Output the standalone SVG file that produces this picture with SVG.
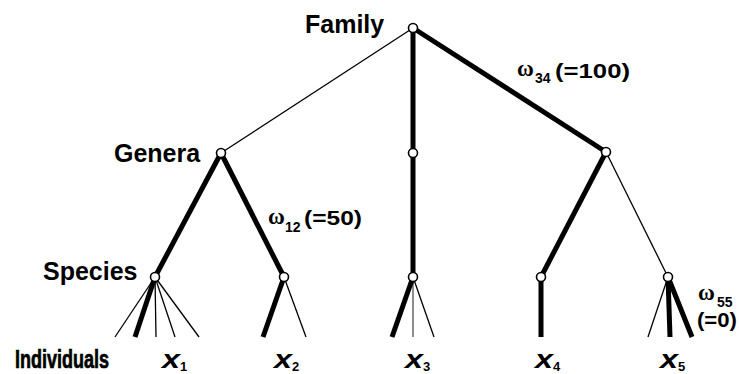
<svg xmlns="http://www.w3.org/2000/svg" width="739" height="374" viewBox="0 0 739 374">
<style>
.thick{stroke:#000;stroke-width:5;fill:none}
.thin{stroke:#000;stroke-width:1.3;fill:none}
.hair{stroke:#000;stroke-width:0.9;fill:none}
.node{fill:#fff;stroke:#000;stroke-width:1.6}
.lbl{font-family:"Liberation Sans",Arial,sans-serif;font-weight:bold;font-size:25px;fill:#000}
.x{font-family:"Liberation Sans",Arial,sans-serif;font-weight:bold;font-style:italic;font-size:26px;fill:#000}
.xs{font-family:"Liberation Sans",Arial,sans-serif;font-weight:bold;font-size:13px;fill:#000}
.om{font-family:"Liberation Serif","Times New Roman",serif;font-weight:bold;font-size:23px;fill:#000}
.os{font-family:"Liberation Sans",Arial,sans-serif;font-weight:bold;font-size:14px;fill:#000}
.ov{font-family:"Liberation Sans",Arial,sans-serif;font-weight:bold;font-size:20px;fill:#000}
</style>
<g id="connectors">
<line class="thin" x1="413" y1="28" x2="221" y2="153"/>
<line class="thick" x1="413" y1="28" x2="413" y2="153"/>
<line class="thick" x1="413" y1="28" x2="606" y2="152"/>
<line class="thick" x1="221" y1="153" x2="155" y2="277"/>
<line class="thick" x1="221" y1="153" x2="284" y2="277"/>
<line class="thick" x1="413" y1="153" x2="413" y2="277"/>
<line class="thick" x1="606" y1="152" x2="541" y2="277"/>
<line class="thin" x1="606" y1="152" x2="668" y2="277"/>
<line class="thin" x1="155" y1="277" x2="115" y2="337"/>
<line class="thick" x1="155" y1="277" x2="135" y2="337"/>
<line class="thin" x1="155" y1="277" x2="156" y2="337"/>
<line class="thin" x1="155" y1="277" x2="175" y2="337"/>
<line class="thin" x1="155" y1="277" x2="199" y2="337"/>
<line class="thick" x1="284" y1="277" x2="263" y2="337"/>
<line class="thin" x1="284" y1="277" x2="306" y2="337"/>
<line class="thick" x1="413" y1="277" x2="392" y2="337"/>
<line class="hair" x1="413" y1="277" x2="413" y2="337"/>
<line class="thin" x1="413" y1="277" x2="434" y2="337"/>
<line class="thick" x1="541" y1="277" x2="541" y2="337"/>
<line class="thin" x1="668" y1="277" x2="648" y2="337"/>
<line class="thick" x1="668" y1="277" x2="670" y2="337"/>
<line class="thick" x1="668" y1="277" x2="692" y2="337"/>
</g>
<g id="family"><circle class="node" cx="413" cy="28" r="4.5"/><text class="lbl" x="305" y="33">Family</text></g>
<g id="genus1"><circle class="node" cx="221" cy="153" r="4.5"/><text class="lbl" x="114" y="162">Genera</text></g>
<g id="genus2"><circle class="node" cx="413" cy="153" r="4.5"/></g>
<g id="genus3"><circle class="node" cx="606" cy="152" r="4.5"/></g>
<g id="species1"><circle class="node" cx="155" cy="277" r="4.5"/><text class="lbl" x="43" y="280">Species</text></g>
<g id="species2"><circle class="node" cx="284" cy="277" r="4.5"/></g>
<g id="species3"><circle class="node" cx="413" cy="277" r="4.5"/></g>
<g id="species4"><circle class="node" cx="541" cy="277" r="4.5"/></g>
<g id="species5"><circle class="node" cx="668" cy="277" r="4.5"/></g>
<g id="individuals">
<text class="lbl" x="15" y="368" textLength="94" lengthAdjust="spacingAndGlyphs" stroke="#000" stroke-width="0.7">Individuals</text>
<text class="x" x="162" y="368" textLength="18" lengthAdjust="spacingAndGlyphs">x</text><text class="xs" x="180" y="371">1</text>
<text class="x" x="274" y="368" textLength="18" lengthAdjust="spacingAndGlyphs">x</text><text class="xs" x="292" y="371">2</text>
<text class="x" x="405" y="368" textLength="18" lengthAdjust="spacingAndGlyphs">x</text><text class="xs" x="423" y="371">3</text>
<text class="x" x="535" y="368" textLength="18" lengthAdjust="spacingAndGlyphs">x</text><text class="xs" x="553" y="371">4</text>
<text class="x" x="660" y="368" textLength="18" lengthAdjust="spacingAndGlyphs">x</text><text class="xs" x="678" y="371">5</text>
</g>
<g id="weights">
<text class="om" x="268" y="224">ω</text><text class="os" x="285" y="232">12</text>
<text class="ov" x="304" y="225" textLength="58" lengthAdjust="spacingAndGlyphs">(=50)</text>
<text class="om" x="517" y="76">ω</text><text class="os" x="535" y="83">34</text>
<text class="ov" x="555" y="78" textLength="75" lengthAdjust="spacingAndGlyphs">(=100)</text>
<text class="om" x="698" y="300">ω</text><text class="os" x="717" y="307">55</text>
<text class="ov" x="697" y="327" textLength="40" lengthAdjust="spacingAndGlyphs">(=0)</text>
</g>
</svg>
